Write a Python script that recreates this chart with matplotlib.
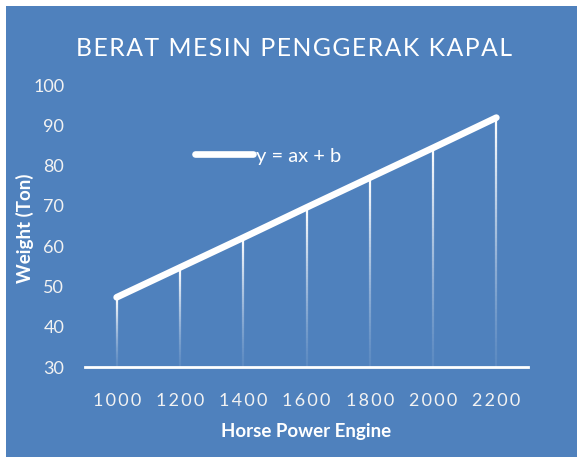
import numpy as np
import matplotlib
matplotlib.use("Agg")
import matplotlib.pyplot as plt
from matplotlib.patches import Rectangle
from matplotlib.collections import LineCollection

# data
hp = [1000, 1200, 1400, 1600, 1800, 2000, 2200]
weight = [47.3, 54.7, 62.1, 69.6, 77.0, 84.4, 91.9]
y_ticks = [30, 40, 50, 60, 70, 80, 90, 100]

title = "BERAT MESIN PENGGERAK KAPAL"
x_label = "Horse Power Engine"
y_label = "Weight (Ton)"
legend_label = "y = ax + b"

blue = "#4F81BD"
fam = ["Lato", "DejaVu Sans"]
plt.rcParams["font.family"] = fam

W, H = 577, 457
fig = plt.figure(figsize=(W / 100, H / 100), dpi=100, facecolor="white")
fig.patches.append(Rectangle((6 / W, 0), 1 - 6 / W, 1 - 6 / H,
                             transform=fig.transFigure, facecolor=blue,
                             edgecolor="none", zorder=-10))

ax = fig.add_axes([85 / W, 1 - 367 / H, (528 - 85) / W, (367 - 85) / H])
ax.patch.set_visible(False)

pos = np.arange(len(hp))

# drop lines with fading white gradient
segs, cols = [], []
n = 60
for p, w in zip(pos, weight):
    ys = np.linspace(30, w, n + 1)
    for i in range(n):
        segs.append([(p, ys[i]), (p, ys[i + 1])])
        a = 0.08 + 0.92 * (i / (n - 1)) ** 1.3
        cols.append((1, 1, 1, a))
ax.add_collection(LineCollection(segs, colors=cols, linewidths=1.6, zorder=2))

ax.plot(pos, weight, color="white", lw=4.8, solid_capstyle="round",
        label=legend_label, zorder=3)

ax.set_xlim(-0.5, len(hp) - 0.5)
ax.set_ylim(30, 100)
ax.set_yticks(y_ticks)
ax.set_yticklabels([str(v) for v in y_ticks], color="#F2F2F2", fontsize=13)
ax.set_xticks(pos)
ax.set_xticklabels(["\u2009".join(str(v)) for v in hp], color="#F2F2F2",
                   fontsize=13)
ax.tick_params(axis="x", length=0, pad=19)
ax.tick_params(axis="y", length=0, pad=15)

for s in ["left", "right", "top"]:
    ax.spines[s].set_visible(False)
ax.spines["bottom"].set_color("white")
ax.spines["bottom"].set_linewidth(2)

fig.text(25 / W, 1 - 228 / H, y_label, rotation=90, ha="center", va="center",
         color="white", fontsize=13.5, fontweight="bold")
fig.text(306 / W, 1 - 431 / H, x_label, ha="center", va="center",
         color="white", fontsize=13.5, fontweight="bold")
fig.text(294 / W, 1 - 48 / H, "\u200a".join(title), ha="center", va="center",
         color="white", fontsize=17.8)

leg = ax.legend(loc="center left", bbox_to_anchor=(195 / W, 1 - 156 / H),
                bbox_transform=fig.transFigure, frameon=False, borderpad=0,
                borderaxespad=0, handlelength=2.9, handletextpad=0.15,
                fontsize=14.5)
for t in leg.get_texts():
    t.set_color("white")

fig.savefig("out.png", dpi=100, facecolor="white")
